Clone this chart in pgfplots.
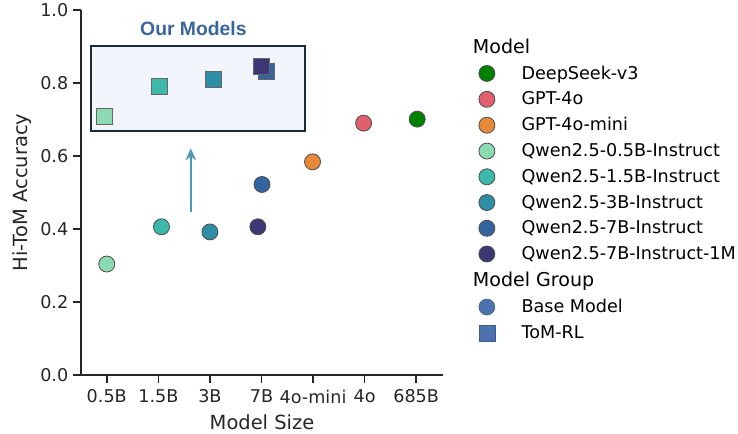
\documentclass[border=0pt]{standalone}
\usepackage{fontspec}
\setmainfont{DejaVu Sans}
\newfontfamily\arialfont{Liberation Sans}
\usepackage{pgfplots}
\pgfplotsset{compat=1.18}
\usetikzlibrary{calc,arrows.meta}

\definecolor{cDeep}{HTML}{008000}
\definecolor{cGpt}{HTML}{E0606E}
\definecolor{cMini}{HTML}{E8883A}
\definecolor{cQa}{HTML}{8BDAB2}
\definecolor{cQb}{HTML}{3DB9AB}
\definecolor{cQc}{HTML}{2E8EA6}
\definecolor{cQd}{HTML}{34649F}
\definecolor{cQe}{HTML}{3C3775}
\definecolor{cGroup}{HTML}{4C72B0}
\definecolor{boxfill}{HTML}{F2F6FC}
\definecolor{boxedge}{HTML}{1B2A38}
\definecolor{ourtxt}{HTML}{3A66A0}
\definecolor{arrowc}{HTML}{4A9BB2}
\definecolor{spine}{HTML}{262626}

\tikzset{
  circ/.style={only marks, mark=*, mark size=6pt, mark options={fill=#1, draw=black!70, line width=0.6pt}},
  sq/.style={only marks, mark=square*, mark size=6pt, mark options={fill=#1, draw=black!60, line width=0.6pt}},
}

\begin{document}
\begin{tikzpicture}
\begin{axis}[
  scale only axis,
  width=271.5pt, height=273.75pt,
  xmin=-0.5, xmax=6.52, ymin=0, ymax=1.0,
  axis x line*=bottom, axis y line*=left,
  axis line style={spine, line width=1.2pt},
  xtick={0,...,6},
  xticklabels={0.5B,1.5B,3B,7B,4o-mini,4o,685B},
  ytick={0,0.2,...,1.0},
  yticklabel style={/pgf/number format/.cd, fixed, fixed zerofill, precision=1},
  /pgf/number format/assume math mode=true,
  tick align=outside, major tick length=6pt,
  tick style={spine, line width=1.2pt},
  ticklabel style={font=\fontsize{13.2}{15}\selectfont, color=spine},
  xticklabel style={yshift=-1.5pt},
  xlabel={Model Size}, ylabel={Hi-ToM Accuracy},
  label style={font=\fontsize{14.6}{17}\selectfont, color=spine},
  xlabel style={yshift=-1.5pt},
  clip=false,
  legend cell align=left,
  legend style={at={(1.078,0.937)}, anchor=north west, draw=none, fill=none,
    font=\fontsize{13.2}{15}\selectfont, row sep=4pt,
    /tikz/every odd column/.append style={column sep=18pt}},
]
% box around our models
\addplot[forget plot, draw=boxedge, line width=1.3pt, fill=boxfill]
  coordinates {(-0.31,0.668) (3.84,0.668) (3.84,0.902) (-0.31,0.902)} -- cycle;
\node[font=\arialfont\bfseries\fontsize{14.5}{16}\selectfont, text=ourtxt]
  at (axis cs:1.68,0.95) {Our Models};
\draw[-{Stealth[length=9pt,width=8pt]}, arrowc, line width=1.5pt]
  (axis cs:1.63,0.447) -- (axis cs:1.63,0.621);

% base models (circles)
\addplot[circ=cQa, forget plot] coordinates {(0.0,0.304)};
\addplot[circ=cQb, forget plot] coordinates {(1.06,0.406)};
\addplot[circ=cQc, forget plot] coordinates {(2.0,0.392)};
\addplot[circ=cQd, forget plot] coordinates {(3.01,0.522)};
\addplot[circ=cQe, forget plot] coordinates {(2.93,0.406)};
\addplot[circ=cMini, forget plot] coordinates {(3.99,0.584)};
\addplot[circ=cGpt, forget plot] coordinates {(4.98,0.690)};
\addplot[circ=cDeep, forget plot] coordinates {(6.02,0.701)};

% ToM-RL models (squares)
\addplot[sq=cQa, forget plot] coordinates {(-0.05,0.708)};
\addplot[sq=cQb, forget plot] coordinates {(1.03,0.792)};
\addplot[sq=cQc, forget plot] coordinates {(2.06,0.811)};
\addplot[sq=cQd, forget plot] coordinates {(3.09,0.833)};
\addplot[sq=cQe, forget plot] coordinates {(3.0,0.845)};

\coordinate (sw) at (rel axis cs:0,0);

% legend
\addlegendimage{empty legend}\addlegendentry{\hspace*{-36.5pt}\fontsize{14.3}{16}\selectfont Model}
\addlegendimage{circ=cDeep}\addlegendentry{DeepSeek-v3}
\addlegendimage{circ=cGpt}\addlegendentry{GPT-4o}
\addlegendimage{circ=cMini}\addlegendentry{GPT-4o-mini}
\addlegendimage{circ=cQa}\addlegendentry{Qwen2.5-0.5B-Instruct}
\addlegendimage{circ=cQb}\addlegendentry{Qwen2.5-1.5B-Instruct}
\addlegendimage{circ=cQc}\addlegendentry{Qwen2.5-3B-Instruct}
\addlegendimage{circ=cQd}\addlegendentry{Qwen2.5-7B-Instruct}
\addlegendimage{circ=cQe}\addlegendentry{Qwen2.5-7B-Instruct-1M}
\addlegendimage{empty legend}\addlegendentry{\hspace*{-36.5pt}\fontsize{14.3}{16}\selectfont Model Group}
\addlegendimage{only marks, mark=*, mark size=6pt, mark options={fill=cGroup, draw=cGroup!80!black, line width=0.4pt}}\addlegendentry{Base Model}
\addlegendimage{only marks, mark=square*, mark size=6pt, mark options={fill=cGroup, draw=cGroup!80!black, line width=0.4pt}}\addlegendentry{ToM-RL}
\end{axis}
\pgfresetboundingbox
\path ($(sw)+(-60.75pt,-44.25pt)$) rectangle +(553.5pt,325.5pt);
\end{tikzpicture}
\end{document}
